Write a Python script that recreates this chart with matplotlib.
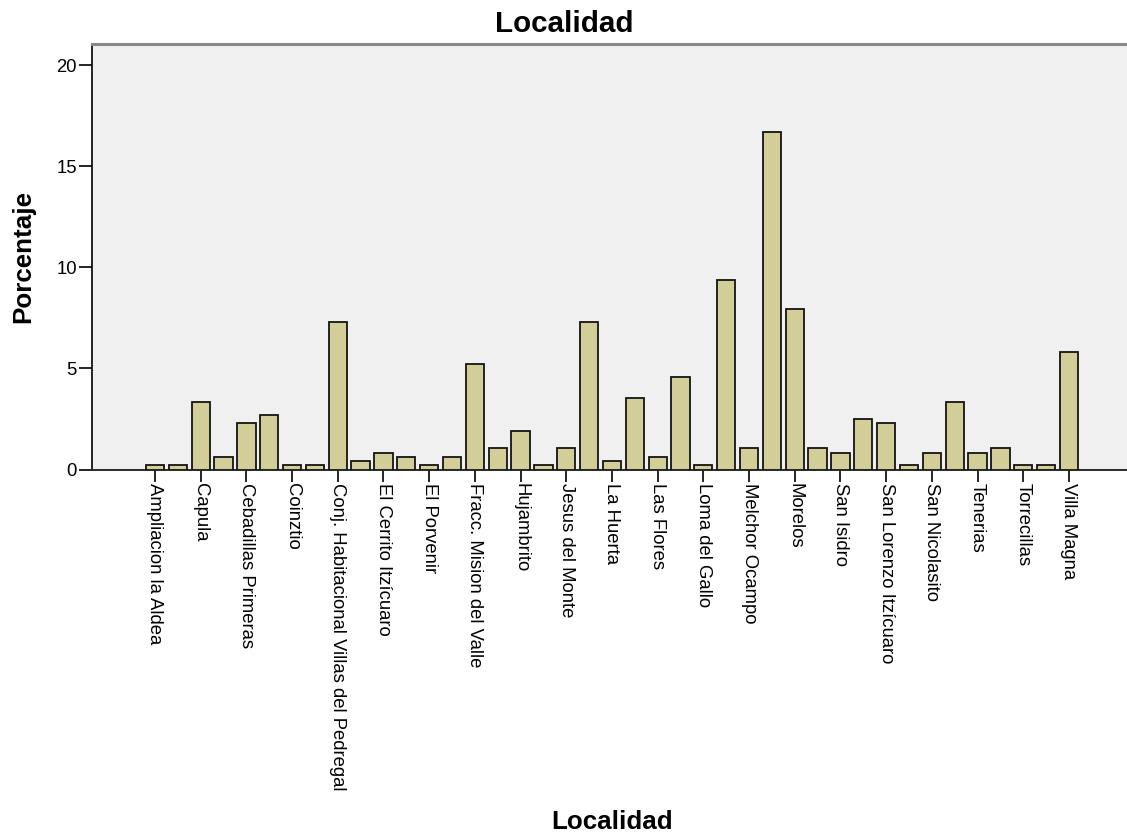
import matplotlib
matplotlib.use("Agg")
import matplotlib.pyplot as plt
import numpy as np

# Percent per locality (41 bars; only every other one is labelled on the axis)
values = [0.21, 0.21, 3.33, 0.63, 2.29, 2.71, 0.21, 0.21, 7.29, 0.42,
          0.83, 0.63, 0.21, 0.63, 5.21, 1.04, 1.88, 0.21, 1.04, 7.29,
          0.42, 3.54, 0.63, 4.58, 0.21, 9.38, 1.04, 16.67, 7.92, 1.04,
          0.83, 2.50, 2.29, 0.21, 0.83, 3.33, 0.83, 1.04, 0.21, 0.21,
          5.83]

tick_labels = ["Ampliacion la Aldea", "Capula", "Cebadillas Primeras", "Coinztio",
               "Conj. Habitacional Villas del Pedregal", "El Cerrito Itzícuaro",
               "El Porvenir", "Fracc. Mision del Valle", "Hujambrito",
               "Jesus del Monte", "La Huerta", "Las Flores", "Loma del Gallo",
               "Melchor Ocampo", "Morelos", "San Isidro", "San Lorenzo Itzícuaro",
               "San Nicolasito", "Tenerias", "Torrecillas", "Villa Magna"]

y_ticks = [0, 5, 10, 15, 20]

plt.rcParams['font.family'] = ['Liberation Sans', 'DejaVu Sans']

W, H = 1127, 835
fig = plt.figure(figsize=(W / 100, H / 100), dpi=100)

left_px, right_px, top_px, bottom_px = 92, 1132, 44, 469.5
ax = fig.add_axes([left_px / W, 1 - bottom_px / H,
                   (right_px - left_px) / W, (bottom_px - top_px) / H])
ax.set_facecolor('#F0F0F0')

x = np.arange(len(values))
ax.bar(x, values, width=0.8, color='#D3CE97', edgecolor='#141414',
       linewidth=1.3, zorder=3)

ax.set_xlim(-2.757, 42.76)
ax.set_ylim(0, 21.04)

ax.set_yticks(y_ticks)
ax.set_yticklabels([str(v) for v in y_ticks])
ax.set_xticks(x[::2])
ax.set_xticklabels(tick_labels, rotation=-90, ha='center', va='top')

ax.tick_params(axis='y', direction='out', length=9.4, width=1.2,
               pad=1.4, labelsize=13.3, colors='black')
ax.tick_params(axis='x', direction='out', length=8.6, width=1.2,
               pad=1.0, labelsize=13.3, colors='black')

ax.spines['left'].set_color('black')
ax.spines['left'].set_linewidth(1.2)
ax.spines['bottom'].set_color('#2a2a2a')
ax.spines['bottom'].set_linewidth(1.4)
ax.spines['top'].set_color('#8a8a8a')
ax.spines['top'].set_linewidth(2.2)
ax.spines['right'].set_visible(False)

fig.text(564 / W, 1 - 32 / H, 'Localidad', ha='center', va='baseline',
         fontsize=21.3, fontweight='bold')
fig.text(612 / W, 1 - 829 / H, 'Localidad', ha='center', va='baseline',
         fontsize=18.7, fontweight='bold')
fig.text(23 / W, 1 - 256.5 / H, 'Porcentaje', ha='center', va='center',
         rotation=90, fontsize=18.7, fontweight='bold')

fig.savefig('out.png', dpi=100)
